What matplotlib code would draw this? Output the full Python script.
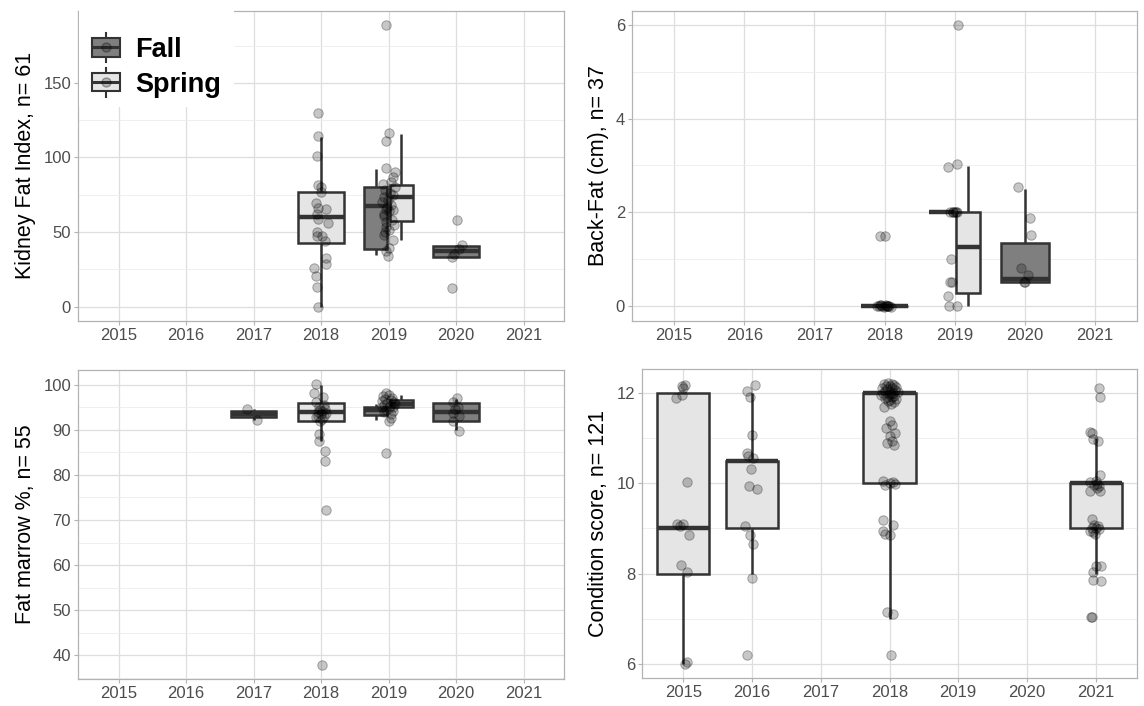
import numpy as np
import matplotlib.pyplot as plt
from matplotlib.patches import Patch, Rectangle
from matplotlib.lines import Line2D
from matplotlib.legend_handler import HandlerBase

plt.rcParams['font.family'] = ['Liberation Sans', 'DejaVu Sans']

years = [2015, 2016, 2017, 2018, 2019, 2020, 2021]

# Kidney fat index
kfi_box_year = [2018, 2019, 2019, 2020]
kfi_box_season = ['Spring', 'Fall', 'Spring', 'Fall']
kfi_lo = [0.0, 34.5, 44.9, 33.3]
kfi_q1 = [42.9, 38.9, 57.4, 33.3]
kfi_med = [59.8, 67.4, 73.4, 37.3]
kfi_q3 = [76.7, 80.1, 81.2, 40.7]
kfi_hi = [113.9, 92.3, 115.7, 41.1]
kfi_pts = {
    2018: [129.5, 114.1, 101.2, 81.7, 80.5, 76.7, 69.4, 66.3, 65.6, 62.3, 59.0,
           56.3, 50.0, 47.1, 47.6, 44.0, 32.9, 28.9, 26.0, 20.6, 13.3, 0.0],
    2019: [188.7, 116.1, 111.2, 92.8, 90.1, 86.7, 83.5, 82.3, 80.1, 78.0, 76.2,
           75.0, 73.4, 71.2, 70.0, 68.0, 67.0, 65.6, 65.0, 64.0, 62.3, 60.5,
           58.0, 57.0, 55.0, 53.4, 51.1, 50.0, 47.8, 44.9, 39.6, 37.3, 33.8],
    2020: [58.3, 41.1, 38.9, 35.6, 33.3, 12.6],
}
kfi_jit = {
    2018: [-0.04, -0.04, -0.06, -0.05, 0.0, 0.0, -0.08, -0.04, 0.08, -0.06, -0.04,
           0.1, -0.06, -0.06, 0.02, 0.06, 0.07, 0.08, -0.11, -0.08, -0.06, -0.04],
    2019: [-0.04, 0.0, -0.04, -0.03, 0.09, 0.06, 0.03, -0.08, 0.09, -0.05, 0.02,
           0.07, -0.06, -0.01, -0.09, 0.04, -0.02, -0.04, 0.06, 0.01, -0.07, -0.06,
           0.05, -0.03, 0.08, -0.04, 0.01, -0.05, -0.07, 0.06, 0.01, -0.04, -0.01],
    2020: [0.02, 0.09, 0.05, -0.03, -0.06, -0.06],
}

# Back fat
bf_box_year = [2018, 2019, 2019, 2020]
bf_box_season = ['Spring', 'Fall', 'Spring', 'Fall']
bf_lo = [0.0, 2.0, 0.0, 0.5]
bf_q1 = [0.0, 2.0, 0.27, 0.5]
bf_med = [0.0, 2.0, 1.25, 0.56]
bf_q3 = [0.0, 2.0, 2.0, 1.33]
bf_hi = [0.0, 2.0, 2.99, 2.49]
bf_pts = {
    2018: [1.5, 1.5, 0.0, -0.01, 0.01, 0.0, -0.02, 0.0, 0.01, -0.01, 0.0, 0.0,
           -0.02, 0.01, 0.0],
    2019: [6.0, 3.03, 2.97, 2.0, 2.0, 2.0, 2.0, 2.0, 2.0, 1.0, 0.5, 0.5, 0.21,
           0.0, 0.0],
    2020: [2.53, 1.87, 1.52, 0.8, 0.66, 0.51, 0.5],
}
bf_jit = {
    2018: [-0.06, 0.01, -0.11, -0.08, -0.05, -0.03, -0.01, 0.0, 0.02, 0.03, 0.05,
           0.07, 0.09, -0.06, 0.04],
    2019: [0.05, 0.03, -0.09, -0.06, -0.03, -0.02, 0.0, 0.02, 0.03, -0.05, -0.06,
           -0.04, -0.09, -0.08, 0.04],
    2020: [-0.09, 0.07, 0.09, -0.06, 0.04, -0.01, 0.0],
}

# Fat marrow
fm_box_year = [2017, 2018, 2019, 2019, 2020]
fm_box_season = ['Fall', 'Spring', 'Fall', 'Spring', 'Fall']
fm_lo = [92.3, 87.5, 92.3, 95.0, 90.1]
fm_q1 = [92.8, 92.1, 93.4, 95.0, 91.9]
fm_med = [93.5, 94.0, 94.5, 95.8, 93.9]
fm_q3 = [94.3, 95.9, 95.0, 96.7, 95.9]
fm_hi = [94.7, 100.0, 95.7, 97.8, 96.9]
fm_pts = {
    2017: [94.7, 92.3],
    2018: [100.2, 98.1, 97.4, 96.3, 95.6, 95.0, 94.7, 94.5, 94.2, 94.0, 93.8,
           93.5, 93.2, 93.0, 92.8, 92.5, 92.0, 89.0, 87.5, 85.4, 83.2, 72.2, 37.8],
    2019: [98.3, 97.8, 97.5, 97.2, 96.9, 96.6, 96.4, 96.2, 96.0, 95.8, 95.6,
           95.4, 95.2, 95.0, 94.8, 94.5, 94.2, 93.9, 93.5, 92.6, 91.9, 84.9],
    2020: [97.2, 96.2, 95.2, 94.6, 93.7, 93.2, 91.9, 89.8],
}
fm_jit = {
    2017: [-0.09, 0.05],
    2018: [-0.07, -0.10, 0.03, -0.07, 0.05, -0.03, 0.06, -0.01, 0.02, -0.05, 0.08,
           0.0, -0.04, 0.04, -0.08, 0.01, -0.02, -0.03, -0.03, 0.06, 0.06, 0.07, 0.01],
    2019: [-0.03, 0.0, -0.08, 0.05, -0.05, 0.03, -0.1, 0.08, -0.02, 0.1, -0.06,
           0.02, 0.06, -0.09, 0.0, -0.04, 0.07, -0.07, 0.03, 0.04, 0.01, -0.03],
    2020: [0.01, -0.05, 0.03, -0.02, -0.05, 0.04, -0.05, 0.04],
}

# Condition score
cs_box_year = [2015, 2016, 2018, 2021]
cs_box_season = ['Spring', 'Spring', 'Spring', 'Spring']
cs_lo = [6.0, 8.0, 7.0, 8.0]
cs_q1 = [8.0, 9.0, 10.0, 9.0]
cs_med = [9.0, 10.5, 12.0, 10.0]
cs_q3 = [12.0, 10.5, 12.0, 10.0]
cs_hi = [12.0, 12.0, 12.0, 11.0]
cs_pts = {
    2015: [12.18, 12.15, 12.11, 11.96, 11.88, 10.02, 9.11, 9.1, 9.05, 8.85, 8.2,
           8.04, 6.04, 6.0],
    2016: [12.18, 12.05, 11.9, 11.07, 10.68, 10.6, 10.57, 10.32, 9.95, 9.88, 9.06,
           8.85, 8.66, 7.9, 6.2],
    2018: [12.22, 12.2, 12.19, 12.18, 12.16, 12.15, 12.13, 12.12, 12.1, 12.08,
           12.07, 12.05, 12.03, 12.02, 12.0, 11.99, 11.98, 11.97, 11.95, 11.93,
           11.92, 11.9, 11.88, 11.86, 11.85, 11.83, 11.8, 11.75, 11.7,
           11.39, 11.3, 11.22, 11.12, 11.05, 10.94, 10.9, 10.85,
           10.05, 10.02, 10.0, 9.98, 9.97,
           9.18, 9.07, 8.95, 8.88, 8.85,
           7.15, 7.1, 6.2],
    2021: [12.12, 11.92, 11.14, 11.12, 10.97, 10.94, 10.19, 10.05, 10.02, 9.99,
           9.97, 9.95, 9.9, 9.83, 9.83, 9.22, 9.08, 9.05, 9.02, 9.0,
           8.98, 8.95, 8.93, 8.88, 8.18, 8.18, 8.03, 7.87, 7.83, 7.05, 7.03],
}
cs_jit = {
    2015: [0.03, -0.02, 0.0, -0.02, -0.10, 0.05, -0.09, 0.0, -0.05, 0.08, -0.04,
           0.05, 0.05, 0.03],
    2016: [0.05, -0.07, -0.03, 0.0, -0.08, -0.06, 0.02, -0.02, -0.05, 0.07, -0.10,
           -0.03, 0.02, 0.0, -0.07],
    2018: [-0.02, 0.03, -0.08, 0.06, 0.0, -0.05, 0.1, -0.11, 0.04, -0.03,
           0.08, -0.06, 0.01, 0.12, -0.09, 0.05, -0.01, 0.02, -0.12, 0.07,
           -0.04, 0.03, -0.07, 0.09, 0.0, -0.02, 0.06, 0.02, -0.08,
           0.0, 0.04, -0.05, 0.08, 0.0, 0.03, -0.03, 0.06,
           -0.1, 0.05, 0.0, 0.08, -0.06,
           -0.09, 0.05, -0.1, -0.07, 0.01,
           -0.04, 0.05, 0.02],
    2021: [0.04, 0.06, -0.08, -0.06, -0.04, 0.03, 0.06, 0.0, -0.09, 0.02,
           -0.02, 0.04, 0.02, -0.09, 0.06, -0.06, -0.03, 0.03, 0.0, -0.05,
           0.05, -0.08, -0.04, -0.01, 0.0, 0.08, -0.04, -0.04, 0.07, -0.05, -0.07],
}

W, H = 1144, 706
FILL = {'Fall': '#7f7f7f', 'Spring': '#e5e5e5'}
EDGE = '#333333'
PT_FACE = (0, 0, 0, 0.22)
PT_EDGE = (0, 0, 0, 0.3)


def px_axes(fig, x0, y0, x1, y1):
    return fig.add_axes([x0 / W, 1 - y1 / H, (x1 - x0) / W, (y1 - y0) / H])


def draw_panel(ax, box_year, box_season, lo, q1, med, q3, hi, pts, jit,
               major, minor, ylabel, single_w):
    stats, pos, widths, fills = [], [], [], []
    for i, yr in enumerate(box_year):
        if box_year.count(yr) > 1:
            off = -0.19 if box_season[i] == 'Fall' else 0.19
            w = 0.35
        else:
            off, w = 0.0, single_w
        stats.append(dict(whislo=lo[i], q1=q1[i], med=med[i], q3=q3[i], whishi=hi[i]))
        pos.append(yr + off)
        widths.append(w)
        fills.append(FILL[box_season[i]])

    bp = ax.bxp(stats, positions=pos, widths=widths, showfliers=False,
                showcaps=False, patch_artist=True,
                boxprops=dict(edgecolor=EDGE, linewidth=1.8),
                whiskerprops=dict(color=EDGE, linewidth=1.8, solid_capstyle='butt'),
                medianprops=dict(color=EDGE, linewidth=3.2, solid_capstyle='butt'),
                manage_ticks=False, zorder=3)
    for patch, fc in zip(bp['boxes'], fills):
        patch.set_facecolor(fc)

    all_vals = []
    for yr in pts:
        x = yr + np.array(jit[yr])
        y = np.array(pts[yr])
        all_vals.extend(pts[yr])
        ax.scatter(x, y, s=46, facecolor=PT_FACE, edgecolor=PT_EDGE,
                   linewidth=0.7, zorder=4)

    vmin, vmax = min(all_vals), max(all_vals)
    pad = 0.05 * (vmax - vmin)
    ax.set_ylim(vmin - pad, vmax + pad)
    ax.set_xlim(2014.4, 2021.6)

    ax.set_xticks(years)
    ax.set_xticklabels([str(y) for y in years])
    ax.set_yticks(major)
    ax.set_yticks(minor, minor=True)
    ax.set_ylabel(ylabel, fontsize=15.5, labelpad=5)

    ax.grid(which='major', color='#dedede', linewidth=0.9, zorder=0)
    ax.grid(which='minor', axis='y', color='#ececec', linewidth=0.6, zorder=0)
    ax.set_axisbelow(True)
    for sp in ax.spines.values():
        sp.set_color('#b3b3b3')
        sp.set_linewidth(0.9)
    ax.tick_params(which='major', length=3, width=0.8, color='#b3b3b3',
                   labelcolor='#4d4d4d', labelsize=12, pad=2)
    ax.tick_params(which='minor', length=0)


class BoxKey(HandlerBase):
    def create_artists(self, legend, orig_handle, xdescent, ydescent,
                       width, height, fontsize, trans):
        x0, y0 = -xdescent, -ydescent
        xc, yc = x0 + width / 2, y0 + height / 2
        whisker = Line2D([xc, xc], [y0 - 0.3 * height, y0 + 1.3 * height],
                         color=EDGE, lw=1.5, transform=trans)
        box = Rectangle((x0, y0), width, height, facecolor=orig_handle.get_facecolor(),
                        edgecolor=EDGE, lw=1.5, transform=trans)
        median = Line2D([x0, x0 + width], [yc, yc], color=EDGE, lw=2.2,
                        solid_capstyle='butt', transform=trans)
        dot = Line2D([xc], [yc], marker='o', ms=6.5, mfc=PT_FACE, mec=PT_EDGE,
                     ls='none', transform=trans)
        return [whisker, box, median, dot]


fig = plt.figure(figsize=(W / 100, H / 100), dpi=100)

ax1 = px_axes(fig, 78, 11, 564, 320.7)
ax2 = px_axes(fig, 632, 11, 1137, 320.7)
ax3 = px_axes(fig, 78, 370, 564, 679)
ax4 = px_axes(fig, 642, 369, 1137, 678)

draw_panel(ax1, kfi_box_year, kfi_box_season, kfi_lo, kfi_q1, kfi_med, kfi_q3,
           kfi_hi, kfi_pts, kfi_jit, [0, 50, 100, 150], [25, 75, 125, 175],
           'Kidney Fat Index, n= 61', 0.68)
draw_panel(ax2, bf_box_year, bf_box_season, bf_lo, bf_q1, bf_med, bf_q3,
           bf_hi, bf_pts, bf_jit, [0, 2, 4, 6], [1, 3, 5],
           'Back-Fat (cm), n= 37', 0.68)
draw_panel(ax3, fm_box_year, fm_box_season, fm_lo, fm_q1, fm_med, fm_q3,
           fm_hi, fm_pts, fm_jit, list(range(40, 101, 10)), list(range(35, 100, 10)),
           'Fat marrow %, n= 55', 0.68)
draw_panel(ax4, cs_box_year, cs_box_season, cs_lo, cs_q1, cs_med, cs_q3,
           cs_hi, cs_pts, cs_jit, [6, 8, 10, 12], [7, 9, 11],
           'Condition score, n= 121', 0.76)

# white legend background sitting over the top-left panel
ax1.add_patch(Rectangle((79 / W, 1 - 107 / H), 155 / W, 99 / H,
                        transform=fig.transFigure, facecolor='white',
                        edgecolor='none', clip_on=False, zorder=4.5))
handles = [Patch(facecolor=FILL['Fall']), Patch(facecolor=FILL['Spring'])]
leg = ax1.legend(handles, ['Fall', 'Spring'], handler_map={Patch: BoxKey()},
                 loc='upper left', bbox_to_anchor=(92 / W, 1 - 37 / H),
                 bbox_transform=fig.transFigure, frameon=False,
                 prop=dict(size=19.5, weight='bold'),
                 handlelength=1.04, handleheight=0.66, handletextpad=0.55,
                 labelspacing=0.32, borderpad=0, borderaxespad=0)
leg.set_zorder(6)

fig.savefig('out.png', dpi=100)
